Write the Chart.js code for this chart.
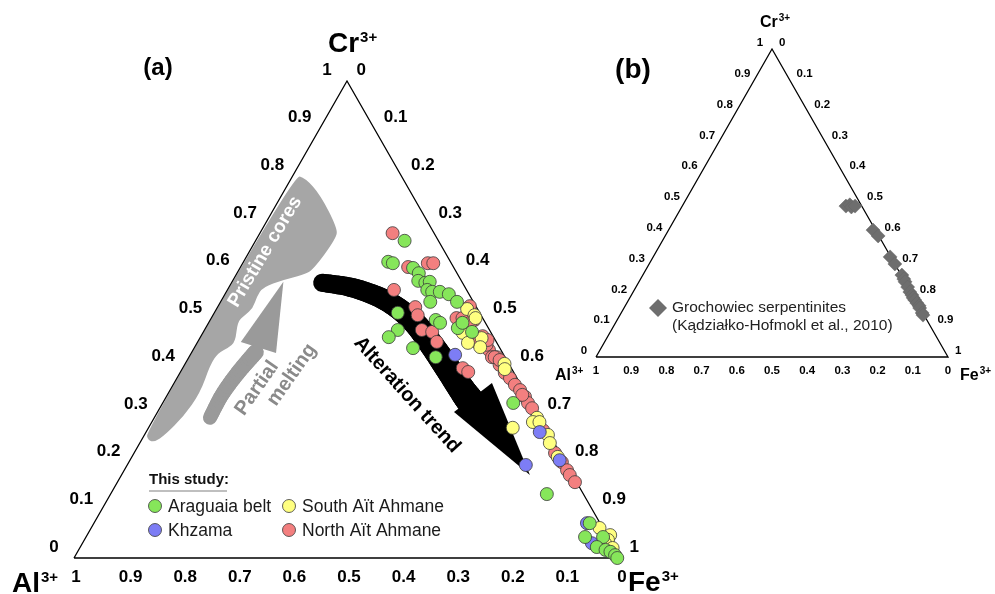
<!DOCTYPE html>
<html>
<head>
<meta charset="utf-8">
<script src="https://cdn.jsdelivr.net/npm/chart.js@4.4.0/dist/chart.umd.min.js"></script>
<style>
body { margin: 0; background: #fff; }
.wrap { position: relative; width: 995px; height: 594px; }
canvas { position: absolute; left: 0; top: 0; }
</style>
</head>
<body>
<div class="wrap">
<canvas id="chartA" width="995" height="594" style="width:995px;height:594px"></canvas>
<canvas id="chartB" width="995" height="594" style="width:995px;height:594px"></canvas>
</div>
<script>
// ternary values: Cr3+ fraction and Fe3+ fraction (Al3+ = 1 - Cr - Fe)
const araguaiaCr = [0.665,0.621,0.618,0.608,0.597,0.581,0.577,0.579,0.562,0.558,0.558,0.537,0.553,0.537,0.514,0.499,0.493,0.482,0.474,0.478,0.463,0.440,0.421,0.493,0.325,0.134,0.073,0.044,0.044,0.023,0.017,0.013,0.006,0.000];
const araguaiaFe = [0.273,0.265,0.275,0.317,0.333,0.340,0.355,0.362,0.366,0.377,0.391,0.384,0.410,0.433,0.336,0.413,0.424,0.462,0.492,0.354,0.345,0.401,0.452,0.465,0.642,0.799,0.908,0.947,0.914,0.946,0.965,0.976,0.988,0.995];

const khzamaCr = [0.426,0.195,0.264,0.205,0.073,0.031];
const khzamaFe = [0.485,0.730,0.721,0.787,0.903,0.933];

const southCr = [0.522,0.509,0.503,0.472,0.461,0.442,0.451,0.407,0.396,0.294,0.273,0.285,0.285,0.258,0.241,0.212,0.063,0.048,0.038,0.031,0.021];
const southFe = [0.459,0.479,0.484,0.476,0.516,0.523,0.496,0.585,0.591,0.701,0.667,0.698,0.710,0.739,0.751,0.780,0.931,0.958,0.959,0.957,0.976];

const northCr = [0.681,0.610,0.618,0.618,0.562,0.526,0.509,0.478,0.474,0.453,0.398,0.390,0.528,0.503,0.503,0.499,0.493,0.465,0.451,0.436,0.421,0.421,0.405,0.388,0.377,0.363,0.352,0.338,0.325,0.314,0.342,0.268,0.220,0.201,0.184,0.174,0.159,0.421,0.415,0.447,0.457];
const northFe = [0.243,0.307,0.339,0.349,0.305,0.362,0.375,0.398,0.419,0.438,0.513,0.527,0.461,0.449,0.460,0.484,0.479,0.516,0.514,0.542,0.555,0.564,0.577,0.595,0.610,0.626,0.641,0.657,0.669,0.682,0.650,0.725,0.771,0.793,0.811,0.821,0.838,0.560,0.572,0.532,0.529];

const grochowiecCr = [0.490,0.494,0.487,0.490,0.412,0.393,0.325,0.302,0.266,0.253,0.244,0.227,0.211,0.201,0.192,0.185,0.175,0.166,0.159,0.143,0.136];
const grochowiecFe = [0.465,0.474,0.482,0.491,0.581,0.605,0.673,0.698,0.736,0.748,0.756,0.772,0.786,0.797,0.805,0.813,0.824,0.835,0.840,0.855,0.861];

const tickValues = [0, 0.1, 0.2, 0.3, 0.4, 0.5, 0.6, 0.7, 0.8, 0.9, 1];
const tickLabels = ['0', '0.1', '0.2', '0.3', '0.4', '0.5', '0.6', '0.7', '0.8', '0.9', '1'];

// annotation outlines, in the same ternary units
const pristineCr = [0.803,0.797,0.761,0.692,0.671,0.604,0.593,0.583,0.568,0.547,0.524,0.509,0.495,0.453,0.440,0.430,0.405,0.346,0.296,0.258,0.243,0.247,0.264];
const pristineFe = [0.002,0.025,0.071,0.136,0.145,0.136,0.122,0.092,0.062,0.061,0.066,0.058,0.052,0.069,0.062,0.049,0.047,0.058,0.052,0.038,0.026,0.012,0.000];
const meltShaftCr = [0.294,0.342,0.388,0.432];
const meltShaftFe = [0.102,0.100,0.106,0.117];
const meltHeadCr = [0.453,0.579,0.430];
const meltHeadFe = [0.079,0.094,0.155];
const altShaftCr = [0.577,0.568,0.549,0.524,0.491,0.451,0.403,0.352,0.331];
const altShaftFe = [0.166,0.221,0.280,0.331,0.380,0.427,0.480,0.535,0.559];
const altHeadCr = [0.306,0.174,0.367];
const altHeadFe = [0.543,0.748,0.582];

const H = Math.sqrt(3) / 2;
const FONT = '"Liberation Sans", Arial, sans-serif';

function toXY(cr, fe) {
    return { x: fe + cr / 2, y: cr * H };
}

function series(cr, fe) {
    return cr.map((c, i) => toXY(c, fe[i]));
}

function px(chart, cr, fe) {
    const p = toXY(cr, fe);
    return [chart.scales.x.getPixelForValue(p.x), chart.scales.y.getPixelForValue(p.y)];
}

function outline(chart, cr, fe) {
    return cr.map((c, i) => px(chart, c, fe[i]));
}

function smoothClosed(ctx, pts) {
    const n = pts.length;
    const mid = (a, b) => [(a[0] + b[0]) / 2, (a[1] + b[1]) / 2];
    let m = mid(pts[n - 1], pts[0]);
    ctx.beginPath();
    ctx.moveTo(m[0], m[1]);
    for (let i = 0; i < n; i++) {
        const p = pts[i];
        const m2 = mid(p, pts[(i + 1) % n]);
        ctx.quadraticCurveTo(p[0], p[1], m2[0], m2[1]);
    }
    ctx.closePath();
}

function polygon(ctx, pts, color) {
    ctx.beginPath();
    ctx.moveTo(pts[0][0], pts[0][1]);
    for (let i = 1; i < pts.length; i++) ctx.lineTo(pts[i][0], pts[i][1]);
    ctx.closePath();
    ctx.fillStyle = color;
    ctx.fill();
}

// catmull-rom resampling of a path outline so the thick stroke looks smooth
function resample(pts, steps) {
    const out = [];
    for (let i = 0; i < pts.length - 1; i++) {
        const p0 = pts[Math.max(0, i - 1)], p1 = pts[i], p2 = pts[i + 1], p3 = pts[Math.min(pts.length - 1, i + 2)];
        for (let s = 0; s < steps; s++) {
            const t = s / steps, t2 = t * t, t3 = t2 * t;
            const f = k => 0.5 * ((2 * p1[k]) + (-p0[k] + p2[k]) * t + (2 * p0[k] - 5 * p1[k] + 4 * p2[k] - p3[k]) * t2 + (-p0[k] + 3 * p1[k] - 3 * p2[k] + p3[k]) * t3);
            out.push([f(0), f(1)]);
        }
    }
    out.push(pts[pts.length - 1]);
    return out;
}

function taperedStroke(ctx, pts, w0, w1, color) {
    const path = resample(pts, 8);
    ctx.strokeStyle = color;
    ctx.lineCap = 'round';
    for (let i = 0; i < path.length - 1; i++) {
        ctx.lineWidth = w0 + (w1 - w0) * i / Math.max(1, path.length - 2);
        ctx.beginPath();
        ctx.moveTo(path[i][0], path[i][1]);
        ctx.lineTo(path[i + 1][0], path[i + 1][1]);
        ctx.stroke();
    }
}

function rotText(ctx, text, x, y, deg, font, color) {
    ctx.save();
    ctx.translate(x, y);
    ctx.rotate(deg * Math.PI / 180);
    ctx.font = font;
    ctx.fillStyle = color;
    ctx.textAlign = 'center';
    ctx.textBaseline = 'middle';
    ctx.fillText(text, 0, 0);
    ctx.restore();
}

function supLabel(ctx, base, sup, x, baseline, size, supSize, raise) {
    ctx.fillStyle = '#000';
    ctx.textAlign = 'left';
    ctx.textBaseline = 'alphabetic';
    ctx.font = 'bold ' + size + 'px ' + FONT;
    ctx.fillText(base, x, baseline);
    const w = ctx.measureText(base).width;
    ctx.font = 'bold ' + supSize + 'px ' + FONT;
    ctx.fillText(sup, x + w + 1, baseline - raise);
}

function drawTicks(ctx, chart, size, left, right, bottom) {
    ctx.fillStyle = '#000';
    ctx.font = 'bold ' + size + 'px ' + FONT;
    ctx.textBaseline = 'middle';
    tickValues.forEach((v, i) => {
        let p = px(chart, v, 0);
        ctx.textAlign = 'center';
        ctx.fillText(tickLabels[i], p[0] + left[0], p[1] + left[1]);
        p = px(chart, 1 - v, v);
        ctx.textAlign = 'left';
        ctx.fillText(tickLabels[i], p[0] + right[0], p[1] + right[1]);
        p = px(chart, 0, 1 - v);
        ctx.textAlign = 'center';
        ctx.fillText(tickLabels[i], p[0] + bottom[0], p[1] + bottom[1]);
    });
}

function triangle() {
    return {
        data: [toXY(0, 0), toXY(0, 1), toXY(1, 0), toXY(0, 0)],
        showLine: true, borderColor: '#000', borderWidth: 1.3,
        pointRadius: 0, fill: false, tension: 0, clip: false, order: 99
    };
}

function dots(label, cr, fe, color) {
    return {
        label: label, data: series(cr, fe),
        backgroundColor: color, pointBackgroundColor: color,
        borderColor: '#3a3a3a', pointBorderColor: '#3a3a3a',
        pointBorderWidth: 0.8, pointRadius: 6.5, clip: false
    };
}

const decorA = {
    id: 'decorA',
    beforeDatasetsDraw(chart) {
        const ctx = chart.ctx;
        ctx.save();
        // pristine cores field
        smoothClosed(ctx, outline(chart, pristineCr, pristineFe));
        ctx.fillStyle = '#a6a6a6';
        ctx.fill();
        let p = px(chart, 0.642, 0.029);
        rotText(ctx, 'Pristine cores', p[0], p[1], -59, 'bold 19px ' + FONT, '#fff');

        // partial melting arrow
        taperedStroke(ctx, outline(chart, meltShaftCr, meltShaftFe), 14, 16, '#9a9a9a');
        polygon(ctx, outline(chart, meltHeadCr, meltHeadFe), '#9a9a9a');
        p = px(chart, 0.356, 0.157);
        rotText(ctx, 'Partial', p[0], p[1], -55, 'bold 20px ' + FONT, '#8a8a8a');
        p = px(chart, 0.384, 0.207);
        rotText(ctx, 'melting', p[0], p[1], -55, 'bold 20px ' + FONT, '#8a8a8a');

        // alteration trend arrow
        taperedStroke(ctx, outline(chart, altShaftCr, altShaftFe), 18, 28, '#000');
        polygon(ctx, outline(chart, altHeadCr, altHeadFe), '#000');
        p = px(chart, 0.342, 0.439);
        rotText(ctx, 'Alteration trend', p[0], p[1], 48, 'bold 20px ' + FONT, '#000');
        ctx.restore();
    },
    afterDraw(chart) {
        const ctx = chart.ctx;
        ctx.save();
        drawTicks(ctx, chart, 17, [-20, -11], [9.5, -11], [2, 19]);
        supLabel(ctx, 'Cr', '3+', 328, 52, 28, 15, 10);
        supLabel(ctx, 'Al', '3+', 12, 592, 28, 15, 10);
        supLabel(ctx, 'Fe', '3+', 628, 591, 28, 15, 10);

        ctx.font = 'bold 24px ' + FONT;
        ctx.textAlign = 'center';
        ctx.textBaseline = 'middle';
        ctx.fillText('(a)', 158, 68);

        // legend
        ctx.textAlign = 'left';
        ctx.font = 'bold 15px ' + FONT;
        ctx.fillStyle = '#111';
        ctx.fillText('This study:', 149, 480);
        ctx.strokeStyle = '#aaa';
        ctx.lineWidth = 1.5;
        ctx.beginPath();
        ctx.moveTo(149, 491);
        ctx.lineTo(227, 491);
        ctx.stroke();
        const items = [
            ['Araguaia belt', '#86e65a', 155, 506],
            ['South A\u00eft Ahmane', '#ffff80', 289, 506],
            ['Khzama', '#7d7df5', 155, 530],
            ['North A\u00eft Ahmane', '#f37f7f', 289, 530]
        ];
        ctx.font = '17.5px ' + FONT;
        items.forEach(it => {
            ctx.beginPath();
            ctx.arc(it[2], it[3], 6.5, 0, Math.PI * 2);
            ctx.fillStyle = it[1];
            ctx.fill();
            ctx.lineWidth = 0.8;
            ctx.strokeStyle = '#3a3a3a';
            ctx.stroke();
            ctx.fillStyle = '#1a1a1a';
            ctx.fillText(it[0], it[2] + 13, it[3] + 1);
        });
        ctx.restore();
    }
};

const decorB = {
    id: 'decorB',
    afterDraw(chart) {
        const ctx = chart.ctx;
        ctx.save();
        drawTicks(ctx, chart, 11.5, [-12, -6], [7, -6], [0, 14]);
        supLabel(ctx, 'Cr', '3+', 760, 27, 16, 10, 6);
        supLabel(ctx, 'Al', '3+', 555, 380, 16, 10, 6);
        supLabel(ctx, 'Fe', '3+', 960, 380, 16, 10, 6);

        ctx.font = 'bold 28px ' + FONT;
        ctx.textAlign = 'center';
        ctx.textBaseline = 'middle';
        ctx.fillText('(b)', 633, 70);

        // legend
        ctx.beginPath();
        ctx.moveTo(658, 299);
        ctx.lineTo(667, 308);
        ctx.lineTo(658, 317);
        ctx.lineTo(649, 308);
        ctx.closePath();
        ctx.fillStyle = '#6e6e6e';
        ctx.fill();
        ctx.fillStyle = '#222';
        ctx.textAlign = 'left';
        ctx.font = '15.5px ' + FONT;
        ctx.fillText('Grochowiec serpentinites', 672, 308);
        ctx.fillText('(K\u0105dzia\u0142ko-Hofmokl et al., 2010)', 672, 326);
        ctx.restore();
    }
};

function baseOptions(padding) {
    return {
        responsive: false,
        animation: false,
        devicePixelRatio: 1,
        layout: { padding: padding },
        scales: {
            x: { type: 'linear', min: 0, max: 1, display: false },
            y: { type: 'linear', min: 0, max: H, display: false }
        },
        plugins: { legend: { display: false }, tooltip: { enabled: false } }
    };
}

new Chart(document.getElementById('chartA'), {
    type: 'scatter',
    data: {
        datasets: [
            dots('Araguaia belt', araguaiaCr, araguaiaFe, '#86e65a'),
            dots('Khzama', khzamaCr, khzamaFe, '#7d7df5'),
            dots('South A\u00eft Ahmane', southCr, southFe, '#ffff80'),
            dots('North A\u00eft Ahmane', northCr, northFe, '#f37f7f'),
            triangle()
        ]
    },
    options: baseOptions({ left: 74, right: 375, top: 81, bottom: 36 }),
    plugins: [decorA]
});

new Chart(document.getElementById('chartB'), {
    type: 'scatter',
    data: {
        datasets: [
            {
                label: 'Grochowiec serpentinites',
                data: series(grochowiecCr, grochowiecFe),
                pointStyle: 'rectRot', pointRadius: 7,
                backgroundColor: '#6e6e6e', pointBackgroundColor: '#6e6e6e',
                pointBorderColor: '#666', pointBorderWidth: 0.5, clip: false
            },
            triangle()
        ]
    },
    options: baseOptions({ left: 596, right: 47, top: 49, bottom: 237 }),
    plugins: [decorB]
});
</script>
</body>
</html>
